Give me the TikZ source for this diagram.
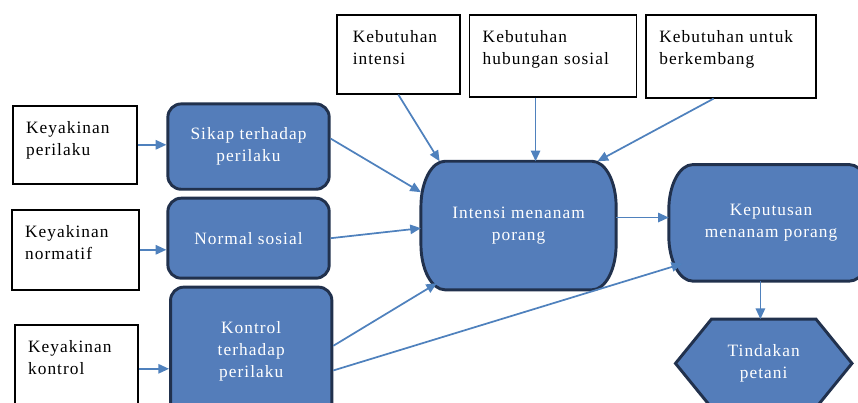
\documentclass[tikz,border=0pt]{standalone}
\usepackage{fontspec}
\setmainfont{Liberation Serif}[LetterSpace=6]
\usetikzlibrary{arrows.meta, positioning, calc, backgrounds}
\definecolor{blufill}{RGB}{84,125,186}
\definecolor{bluline}{RGB}{33,49,77}
\definecolor{arrblue}{RGB}{79,129,189}

\begin{document}
\begin{tikzpicture}[
    arr/.style={-{Triangle[length=8pt, width=7pt]}, line width=1.3pt, arrblue},
    wbox/.style={draw, line width=1.2pt, fill=white, align=left,
                 anchor=north west, inner xsep=10pt, inner ysep=0pt,
                 text height=21pt, font=\fontsize{13}{16}\selectfont},
    bbox/.style={draw=bluline, line width=2.2pt, fill=blufill,
                 rounded corners=10pt, text=white, align=center,
                 minimum width=121pt, font=\fontsize{13}{16.5}\selectfont},
    btext/.style={text=white, align=center, font=\fontsize{13}{16.5}\selectfont},
    outline/.style={draw=bluline, line width=2.2pt, fill=blufill}
  ]
  \useasboundingbox (0,0) rectangle (643.5pt,302.25pt);

  % kebutuhan boxes on top
  \node[wbox, inner xsep=12pt, text width=68.25pt, text depth=38.25pt]
    (kint) at (252pt,291.75pt) {Kebutuhan\\intensi};
  \node[wbox, text width=105.25pt, text depth=40.5pt,
        right=6pt of kint.north east, anchor=north west]
    (khub) {Kebutuhan\\hubungan sosial};
  \node[wbox, text width=107.5pt, text depth=41.25pt,
        right=6pt of khub.north east, anchor=north west]
    (kbk) {Kebutuhan untuk\\berkembang};

  % keyakinan boxes on the left
  \node[wbox, text width=73pt, text depth=37.5pt]
    (kper) at (9pt,223.5pt) {Keyakinan\\perilaku};
  \node[wbox, text width=75.25pt, text depth=39pt]
    (knor) at (8.25pt,145.5pt) {Keyakinan\\normatif};
  \node[wbox, text width=72.25pt, text depth=45pt]
    (kkon) at (10.5pt,59.25pt) {Keyakinan\\kontrol};

  % blue boxes
  \node[bbox, minimum height=64pt, anchor=north west]
    (sikap) at (124.8pt,225.4pt) {Sikap terhadap\\perilaku};
  \node[bbox, minimum height=60pt, below=4.5pt of sikap]
    (normal) {Normal sosial};
  \node[bbox, minimum height=97pt, below=4.5pt of normal, xshift=2pt]
    (kontrol) {Kontrol\\terhadap\\perilaku};

  \node[btext, minimum width=146pt, minimum height=96pt]
    (intensi) at (388.9pt,133.1pt) {Intensi menanam\\porang};
  \node[btext, minimum width=153pt, minimum height=87pt,
        right=39.5pt of intensi, yshift=2pt]
    (keputusan) {Keputusan\\menanam porang};
  \node[btext, minimum width=132pt, minimum height=66pt,
        below=28.5pt of keputusan, xshift=-5.5pt]
    (tindakan) {Tindakan\\petani};

  \begin{scope}[on background layer]
    \foreach \n in {intensi, keputusan}
      \draw[outline] ($(\n.north west)+(18pt,0)$) -- ($(\n.north east)-(18pt,0)$)
        arc[start angle=90, end angle=0, x radius=18pt, y radius=34pt]
        -- ($(\n.south east)+(0,34pt)$)
        arc[start angle=0, end angle=-90, x radius=18pt, y radius=34pt]
        -- ($(\n.south west)+(18pt,0)$)
        arc[start angle=270, end angle=180, x radius=18pt, y radius=34pt]
        -- ($(\n.north west)-(0,34pt)$)
        arc[start angle=180, end angle=90, x radius=18pt, y radius=34pt] -- cycle;
    \draw[outline] (tindakan.west) -- ($(tindakan.north west)+(27pt,0)$)
      -- ($(tindakan.north east)-(27pt,0)$) -- (tindakan.east)
      -- ($(tindakan.south east)-(27pt,0)$) -- ($(tindakan.south west)+(27pt,0)$)
      -- cycle;
  \end{scope}

  \draw[arr] (kper.east) -- (kper.east -| sikap.west);
  \draw[arr] (knor.east) -- (knor.east -| normal.west);
  \draw[arr] (kkon.east) -- (kkon.east -| kontrol.west);

  \draw[arr] ([yshift=6pt]sikap.east) -- ([yshift=25pt]intensi.west);
  \draw[arr] (normal.east) -- ([yshift=-2pt]intensi.west);
  \draw[arr] ([yshift=4.5pt]kontrol.east) -- ([xshift=12pt,yshift=5pt]intensi.south west);
  \draw[arr] ([yshift=-14pt]kontrol.east) -- ([xshift=10pt,yshift=13pt]keputusan.south west);

  \draw[arr] (kint.south) -- ([xshift=14pt]intensi.north west);
  \draw[arr] ([xshift=-13pt]khub.south) -- ([xshift=-13pt]khub.south |- intensi.north);
  \draw[arr] ([xshift=-13pt]kbk.south) -- ([xshift=-14pt]intensi.north east);

  \draw[arr] ([yshift=6pt]intensi.east) -- ([yshift=6pt]intensi.east -| keputusan.west);
  \draw[arr] ([xshift=-8pt]keputusan.south) -- ([xshift=-8pt]keputusan.south |- tindakan.north);
\end{tikzpicture}
\end{document}
